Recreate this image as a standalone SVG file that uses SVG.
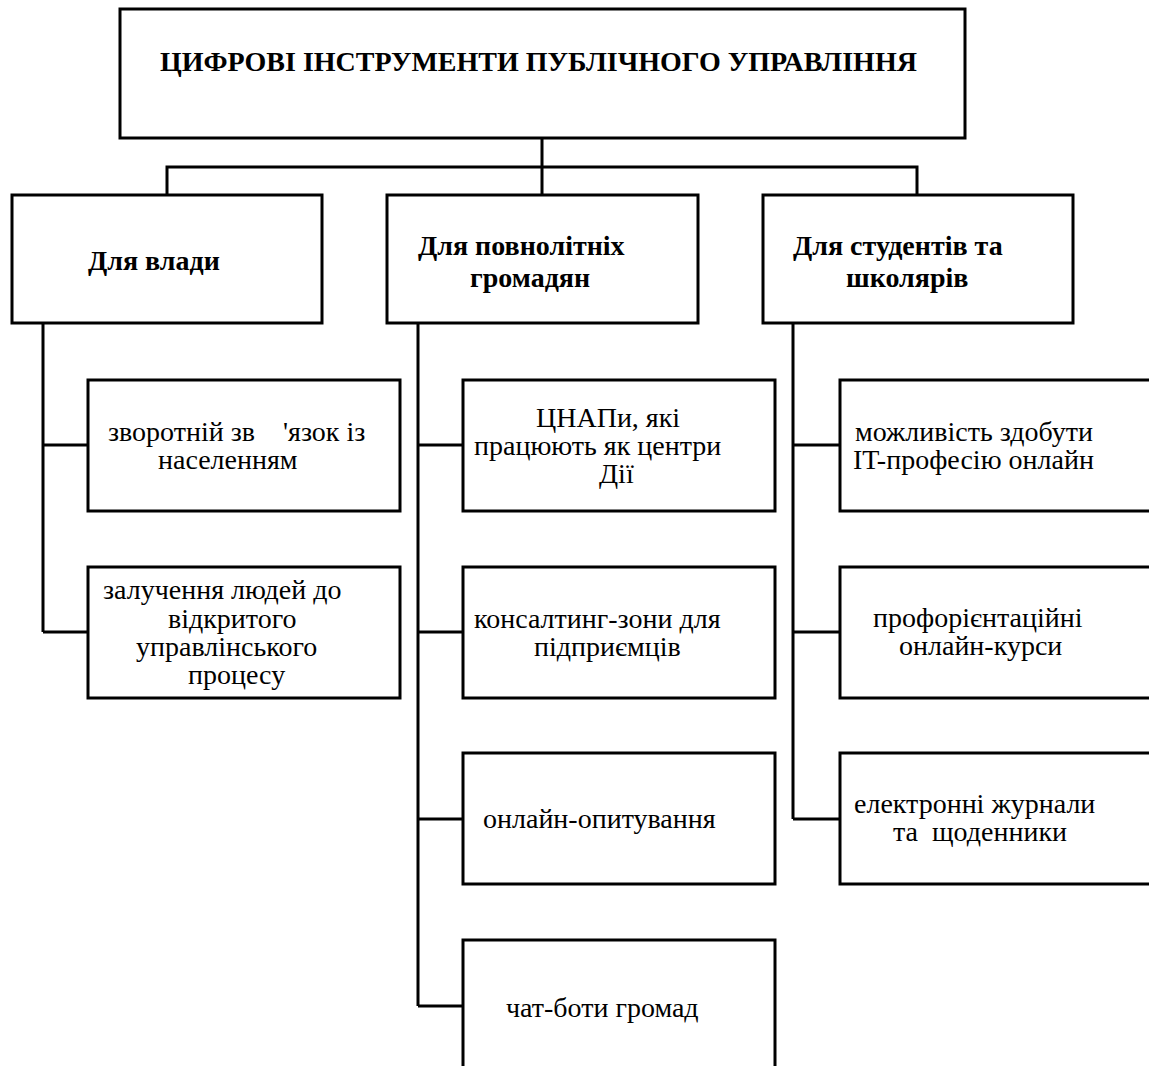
<svg xmlns="http://www.w3.org/2000/svg" width="1149" height="1066" viewBox="0 0 1149 1066">
<style>
.box{fill:#fff;stroke:#000;stroke-width:3}
.ln{fill:none;stroke:#000;stroke-width:3}
text{font-family:'Liberation Serif','Times New Roman','DejaVu Serif',serif;fill:#000}
.t{font-size:28px;white-space:pre}
.b{font-size:28px;font-weight:bold}
</style>
<rect width="1149" height="1066" fill="#fff"/>
<g id="connectors">
<path class="ln" d="M542 138V167M167 195V167H917V195M542 167V195"/>
<path class="ln" d="M43 323V632M43 445H88M43 632H88"/>
<path class="ln" d="M418 323V1006M418 445H463M418 632H463M418 819H463M418 1006H463"/>
<path class="ln" d="M793 323V819M793 445H840M793 632H840M793 819H840"/>
</g>
<g id="root"><rect class="box" x="120" y="9" width="845" height="129"/>
<text class="b" x="160" y="71">ЦИФРОВІ ІНСТРУМЕНТИ ПУБЛІЧНОГО УПРАВЛІННЯ</text></g>
<g id="vlada"><rect class="box" x="12" y="195" width="310" height="128"/>
<text class="b" x="88" y="270">Для влади</text></g>
<g id="hromadiany"><rect class="box" x="387" y="195" width="311" height="128"/>
<text class="b" x="418" y="255">Для повнолітніх</text><text class="b" x="470" y="287">громадян</text></g>
<g id="studenty"><rect class="box" x="763" y="195" width="310" height="128"/>
<text class="b" x="793" y="255">Для студентів та</text><text class="b" x="846" y="287">школярів</text></g>
<g id="zvorotniy"><rect class="box" x="88" y="380" width="312" height="131"/>
<text class="t" x="108" y="441" xml:space="preserve">зворотній зв    'язок із</text><text class="t" x="158" y="469">населенням</text></g>
<g id="zaluchennia"><rect class="box" x="88" y="567" width="312" height="131"/>
<text class="t" x="103" y="599">залучення людей до</text><text class="t" x="168" y="628">відкритого</text><text class="t" x="136" y="656">управлінського</text><text class="t" x="188" y="684">процесу</text></g>
<g id="tsnap"><rect class="box" x="463" y="380" width="312" height="131"/>
<text class="t" x="536" y="427">ЦНАПи, які</text><text class="t" x="474" y="455">працюють як центри</text><text class="t" x="599" y="483">Дії</text></g>
<g id="konsaltynh"><rect class="box" x="463" y="567" width="312" height="131"/>
<text class="t" x="474" y="628">консалтинг-зони для</text><text class="t" x="534" y="656">підприємців</text></g>
<g id="opytuvannia"><rect class="box" x="463" y="753" width="312" height="131"/>
<text class="t" x="483" y="828">онлайн-опитування</text></g>
<g id="chatboty"><rect class="box" x="463" y="940" width="312" height="140"/>
<text class="t" x="506" y="1017">чат-боти громад</text></g>
<g id="it"><rect class="box" x="840" y="380" width="320" height="131"/>
<text class="t" x="855" y="441">можливість здобути</text><text class="t" x="853" y="469">IT-професію онлайн</text></g>
<g id="proforientatsiia"><rect class="box" x="840" y="567" width="320" height="131"/>
<text class="t" x="873" y="627">профорієнтаційні</text><text class="t" x="899" y="655">онлайн-курси</text></g>
<g id="zhurnaly"><rect class="box" x="840" y="753" width="320" height="131"/>
<text class="t" x="854" y="813">електронні журнали</text><text class="t" x="893" y="841" xml:space="preserve">та  щоденники</text></g>
</svg>
